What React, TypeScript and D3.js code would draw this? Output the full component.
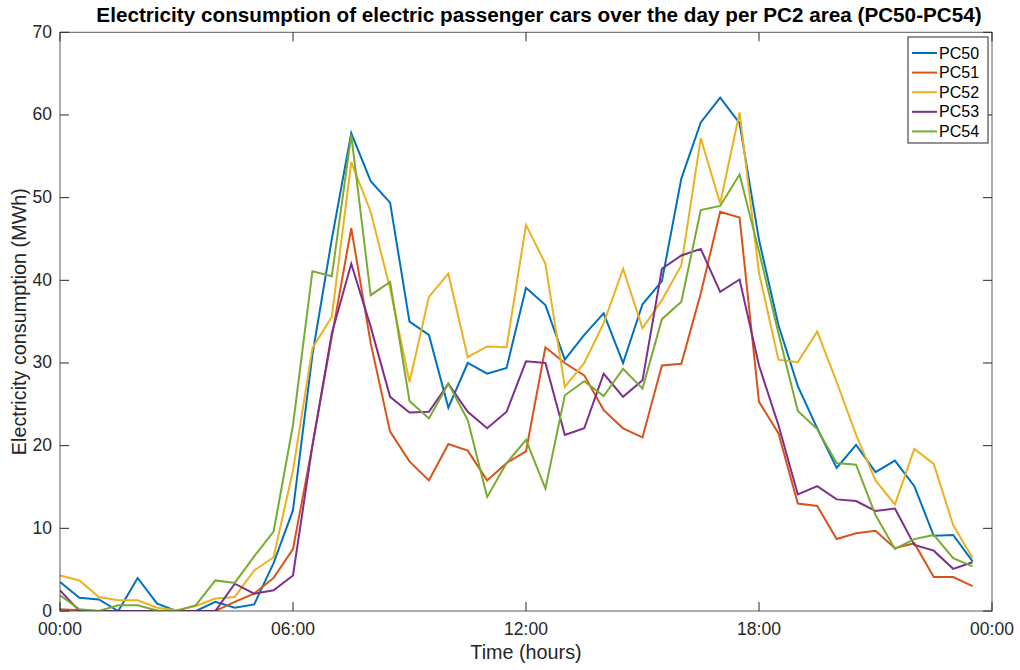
import React from "react";
import * as d3 from "d3";

const hours: number[] = d3.range(48).map((i) => i * 0.5);

const seriesNames: string[] = ["PC50", "PC51", "PC52", "PC53", "PC54"];
const seriesColors: string[] = ["#0072BD", "#D95319", "#EDB120", "#7E2F8E", "#77AC30"];

const pc50: number[] = [3.5, 1.6, 1.4, 0, 4.0, 0.9, 0, 0, 1.1, 0.4, 0.8, 5.8, 12.2, 31, 45, 57.8, 52.0, 49.4, 35.0, 33.4, 24.6, 30.0, 28.7, 29.4, 39.1, 37.0, 30.4, 33.4, 36.0, 30.0, 37.1, 39.9, 52.3, 59.1, 62.1, 59.0, 44.9, 34.6, 27.2, 22.1, 17.3, 20.1, 16.8, 18.2, 15.1, 9.1, 9.2, 6.0];
const pc51: number[] = [0.2, 0.1, 0, 0, 0, 0, 0, 0, 0, 1.1, 2.1, 4.0, 7.5, 20, 33.2, 46.3, 32.4, 21.7, 18.1, 15.8, 20.2, 19.4, 15.8, 17.9, 19.3, 31.9, 30.0, 28.5, 24.3, 22.1, 21.0, 29.7, 29.9, 38.4, 48.3, 47.6, 25.3, 21.5, 13.0, 12.7, 8.7, 9.4, 9.7, 7.6, 8.2, 4.1, 4.1, 3.0];
const pc52: number[] = [4.3, 3.7, 1.7, 1.3, 1.3, 0.4, 0.1, 0.6, 1.5, 1.7, 4.9, 6.5, 17, 31.8, 35.6, 54.3, 48.3, 39, 27.7, 38.0, 40.8, 30.7, 32.0, 31.9, 46.7, 42.0, 27.1, 30.0, 34.8, 41.4, 34.2, 37.6, 41.8, 57.2, 49.3, 60.3, 40.9, 30.4, 30.1, 33.8, 27.7, 21.3, 15.8, 12.9, 19.6, 17.8, 10.4, 6.4];
const pc53: number[] = [2.5, 0, 0, 0, 0, 0, 0, 0, 0, 3.3, 2.1, 2.5, 4.3, 20, 33.6, 42.0, 34.4, 25.9, 24.0, 24.1, 27.5, 24.1, 22.1, 24.1, 30.2, 30.0, 21.3, 22.1, 28.7, 25.9, 27.9, 41.4, 43.0, 43.8, 38.6, 40.1, 29.7, 22.5, 14.1, 15.1, 13.5, 13.3, 12.1, 12.4, 8.0, 7.3, 5.1, 5.9];
const pc54: number[] = [1.9, 0.2, 0, 0.7, 0.7, 0.05, 0, 0.7, 3.7, 3.4, 6.6, 9.6, 22.5, 41.1, 40.5, 57.6, 38.2, 39.8, 25.4, 23.3, 27.5, 23.1, 13.8, 17.9, 20.7, 14.8, 26.1, 27.8, 26.0, 29.3, 26.9, 35.3, 37.4, 48.5, 49.0, 52.8, 43.5, 33.6, 24.2, 22.0, 17.9, 17.7, 11.6, 7.5, 8.7, 9.2, 6.4, 5.4];

const seriesValues: number[][] = [pc50, pc51, pc52, pc53, pc54];

const xTickValues: number[] = [0, 6, 12, 18, 24];
const xTickLabels: string[] = ["00:00", "06:00", "12:00", "18:00", "00:00"];
const yTickValues: number[] = [0, 10, 20, 30, 40, 50, 60, 70];

const titleText = "Electricity consumption of electric passenger cars over the day per PC2 area (PC50-PC54)";
const xLabelText = "Time (hours)";
const yLabelText = "Electricity consumption (MWh)";

export default function App() {
  const W = 1020;
  const H = 670;
  const left = 60;
  const right = 992;
  const top = 32.3;
  const bottom = 611;
  const x = d3.scaleLinear().domain([0, 24]).range([left, right]);
  const y = d3.scaleLinear().domain([0, 70]).range([bottom, top]);
  const line = d3
    .line<number>()
    .x((_, i) => x(hours[i]))
    .y((d) => y(d));
  const axisColor = "#262626";
  const tickLen = 9;
  const font = "'Liberation Sans', Arial, Helvetica, sans-serif";

  const legX = 908;
  const legY = 37;
  const legW = 80;
  const legRow = 19.6;
  const legH = 106;

  return (
    <svg
      width={W}
      height={H}
      style={{ position: "absolute", left: 0, top: 0, background: "#fff" }}
      fontFamily={font}
    >
      <rect x={0} y={0} width={W} height={H} fill="#fff" />
      <defs>
        <clipPath id="clip">
          <rect x={left} y={top} width={right - left} height={bottom - top} />
        </clipPath>
      </defs>
      <g clipPath="url(#clip)">
        {seriesValues.map((vals, k) => (
          <path
            key={seriesNames[k]}
            d={line(vals) || ""}
            fill="none"
            stroke={seriesColors[k]}
            strokeWidth={2}
            strokeLinejoin="miter"
          />
        ))}
      </g>
      <rect
        x={left}
        y={top}
        width={right - left}
        height={bottom - top}
        fill="none"
        stroke={axisColor}
        strokeWidth={1}
        opacity={0.75}
      />
      {xTickValues.map((v, i) => (
        <g key={"xt" + i}>
          <line x1={x(v)} x2={x(v)} y1={bottom} y2={bottom - tickLen} stroke={axisColor} strokeWidth={1} />
          <line x1={x(v)} x2={x(v)} y1={top} y2={top + tickLen} stroke={axisColor} strokeWidth={1} />
          <text x={x(v)} y={635} textAnchor="middle" fontSize={17.5} fill={axisColor}>
            {xTickLabels[i]}
          </text>
        </g>
      ))}
      {yTickValues.map((v) => (
        <g key={"yt" + v}>
          <line x1={left} x2={left + tickLen} y1={y(v)} y2={y(v)} stroke={axisColor} strokeWidth={1} />
          <line x1={right} x2={right - tickLen} y1={y(v)} y2={y(v)} stroke={axisColor} strokeWidth={1} />
          <text x={52} y={y(v) + 5.5} textAnchor="end" fontSize={17.5} fill={axisColor}>
            {v}
          </text>
        </g>
      ))}
      <text x={(left + right) / 2} y={659} textAnchor="middle" fontSize={19.8} fill={axisColor}>
        {xLabelText}
      </text>
      <text
        transform={`translate(25.5, ${(top + bottom) / 2}) rotate(-90)`}
        textAnchor="middle"
        fontSize={19.8}
        fill={axisColor}
      >
        {yLabelText}
      </text>
      <text x={539} y={22} textAnchor="middle" fontSize={20.7} fontWeight="bold" fill="#000">
        {titleText}
      </text>
      <rect x={legX} y={legY} width={legW} height={legH} fill="#fff" stroke={axisColor} strokeWidth={1} />
      {seriesNames.map((name, k) => (
        <g key={"lg" + name}>
          <line
            x1={legX + 4}
            x2={legX + 29}
            y1={legY + 16 + k * legRow}
            y2={legY + 16 + k * legRow}
            stroke={seriesColors[k]}
            strokeWidth={2}
          />
          <text x={legX + 31} y={legY + 21.5 + k * legRow} fontSize={16} fill="#000">
            {name}
          </text>
        </g>
      ))}
    </svg>
  );
}
